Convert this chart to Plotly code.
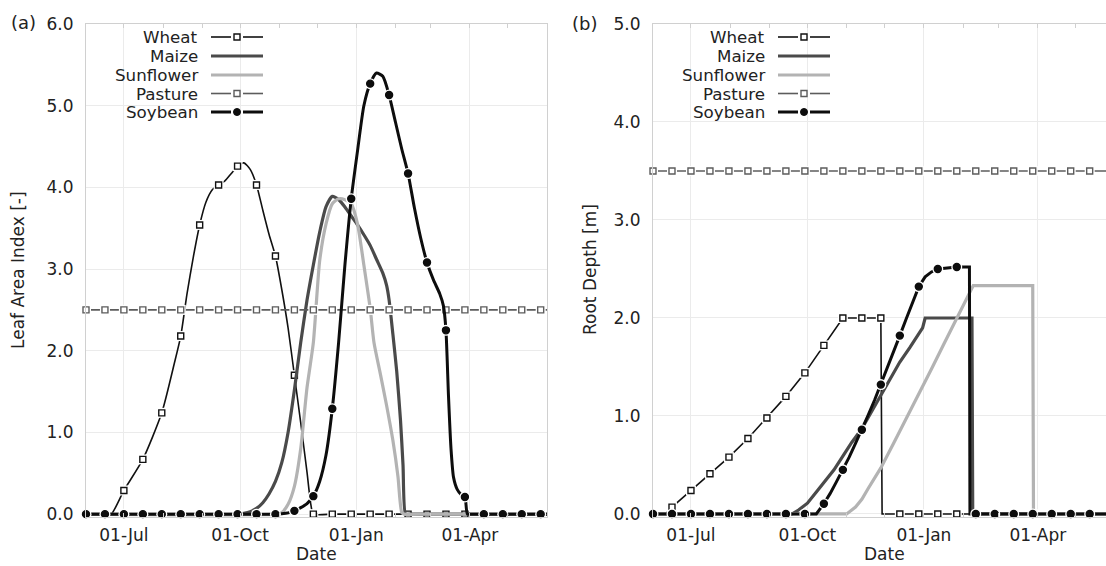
import pandas as pd
import plotly.graph_objects as go

START = pd.Timestamp("2010-06-01")
W, H = 1106, 566

# ---------------- data (day offset from 01-Jun, value) ----------------
# Leaf Area Index [-]
wheat_lai = [(0, 0), (15, 0), (20, 0), (30, 0.29), (45, 0.67), (60, 1.24), (70, 1.85), (75, 2.18),
             (80, 2.70), (85, 3.15), (90, 3.54), (95, 3.82), (100, 3.97), (105, 4.03), (110, 4.08),
             (115, 4.17), (120, 4.26), (125, 4.30), (130, 4.22), (135, 4.03), (140, 3.72), (145, 3.42),
             (150, 3.16), (155, 2.75), (160, 2.28), (165, 1.70), (170, 1.12), (175, 0.51), (178, 0.12),
             (180, 0), (195, 0), (210, 0), (225, 0), (240, 0), (255, 0), (270, 0), (285, 0), (300, 0),
             (315, 0), (330, 0), (345, 0), (360, 0), (365, 0)]
maize_lai = [(0, 0), (120, 0), (125, 0.01), (130, 0.03), (135, 0.07), (140, 0.14), (145, 0.25),
             (150, 0.40), (155, 0.63), (160, 1.00), (165, 1.52), (170, 2.10), (175, 2.62), (180, 3.05),
             (185, 3.45), (190, 3.76), (195, 3.89), (200, 3.85), (205, 3.76), (210, 3.65), (215, 3.54),
             (220, 3.42), (225, 3.29), (230, 3.12), (235, 2.95), (238, 2.80), (240, 2.62), (243, 2.20),
             (246, 1.75), (249, 1.15), (251, 0.60), (253, 0), (256, 0), (270, 0), (365, 0)]
sunflower_lai = [(0, 0), (150, 0), (155, 0.02), (160, 0.12), (165, 0.34), (170, 0.80), (175, 1.55),
                 (180, 2.10), (185, 3.10), (190, 3.55), (195, 3.80), (200, 3.86), (205, 3.85),
                 (210, 3.80), (215, 3.55), (220, 3.05), (225, 2.52), (228, 2.10), (233, 1.72),
                 (238, 1.33), (243, 0.90), (247, 0.46), (250, 0.02), (252, 0), (270, 0), (365, 0)]
pasture_lai = [(d, 2.5) for d in (0, 15, 30, 45, 60, 75, 90, 105, 120, 135, 150, 165, 180, 195, 210,
                                  225, 240, 255, 270, 285, 300, 315, 330, 345, 360, 365)]
soybean_lai = [(0, 0), (15, 0), (30, 0), (45, 0), (60, 0), (75, 0), (90, 0), (105, 0), (120, 0),
               (135, 0), (150, 0), (155, 0.005), (160, 0.015), (165, 0.04), (170, 0.08), (175, 0.13),
               (180, 0.22), (185, 0.40), (190, 0.72), (195, 1.29), (200, 2.10), (205, 3.05),
               (210, 3.86), (215, 4.45), (220, 5.00), (225, 5.27), (230, 5.40), (235, 5.36),
               (240, 5.13), (245, 4.80), (250, 4.47), (255, 4.17), (260, 3.75), (265, 3.38),
               (270, 3.08), (275, 2.87), (280, 2.70), (283, 2.55), (285, 2.25), (287, 1.45),
               (289, 0.80), (291, 0.45), (294, 0.30), (297, 0.24), (300, 0.21), (302, 0), (305, 0),
               (315, 0), (330, 0), (345, 0), (360, 0), (365, 0)]

# Root Depth [m]
wheat_rd = [(0, 0), (10, 0), (15, 0.07), (30, 0.24), (45, 0.41), (60, 0.58), (75, 0.77), (90, 0.98),
            (105, 1.20), (120, 1.44), (135, 1.72), (150, 2.0), (165, 2.0), (180, 2.0), (181, 0),
            (195, 0), (210, 0), (225, 0), (240, 0), (255, 0), (270, 0), (285, 0), (300, 0), (315, 0),
            (330, 0), (345, 0), (360, 0), (365, 0)]
maize_rd = [(0, 0), (110, 0), (115, 0.04), (122, 0.11), (130, 0.24), (136, 0.34), (143, 0.45),
            (150, 0.59), (157, 0.73), (165, 0.87), (172, 1.03), (180, 1.22), (188, 1.40),
            (195, 1.55), (203, 1.70), (210, 1.84), (213, 1.90), (215, 2.0), (252, 2.0), (252.6, 0),
            (365, 0)]
sunflower_rd = [(0, 0), (153, 0), (160, 0.07), (165, 0.15), (170, 0.26), (175, 0.36), (180, 0.47),
                (190, 0.72), (200, 0.97), (210, 1.23), (220, 1.48), (230, 1.74), (240, 2.0),
                (250, 2.25), (253, 2.33), (300, 2.33), (300.6, 0), (365, 0)]
pasture_rd = [(d, 3.5) for d in (0, 15, 30, 45, 60, 75, 90, 105, 120, 135, 150, 165, 180, 195, 210,
                                 225, 240, 255, 270, 285, 300, 315, 330, 345, 360, 365)]
soybean_rd = [(0, 0), (15, 0), (30, 0), (45, 0), (60, 0), (75, 0), (90, 0), (105, 0), (120, 0),
              (129, 0), (135, 0.105), (140, 0.21), (145, 0.33), (150, 0.45), (155, 0.58),
              (160, 0.72), (165, 0.86), (170, 1.01), (175, 1.16), (180, 1.32), (185, 1.49),
              (190, 1.65), (195, 1.82), (200, 1.99), (205, 2.16), (210, 2.32), (215, 2.42),
              (220, 2.47), (225, 2.50), (240, 2.52), (250, 2.52), (250.4, 0), (255, 0), (270, 0),
              (285, 0), (300, 0), (315, 0), (330, 0), (345, 0), (360, 0), (365, 0)]

x_tick_dates = ["2010-07-01", "2010-10-01", "2011-01-01", "2011-04-01"]
x_tick_text = ["01-Jul", "01-Oct", "01-Jan", "01-Apr"]
lai_ticks = [0, 1, 2, 3, 4, 5, 6]
rd_ticks = [0, 1, 2, 3, 4, 5]
names = ["Wheat", "Maize", "Sunflower", "Pasture", "Soybean"]

# ---------------- styles ----------------
FONT = "DejaVu Sans"
TXT = "#222222"
STY = {
    "Wheat": dict(color="#111111", width=1.6, symbol="square", msize=6, fill="white", halo=10),
    "Maize": dict(color="#4a4a4a", width=3.2, symbol=None),
    "Sunflower": dict(color="#b3b3b3", width=3.2, symbol=None),
    "Pasture": dict(color="#5c5c5c", width=1.6, symbol="square", msize=6, fill="white", halo=10),
    "Soybean": dict(color="#0d0d0d", width=3.0, symbol="circle", msize=7, fill="#0d0d0d", halo=11),
}

def to_dates(days):
    return [START + pd.Timedelta(days=float(d)) for d in days]

fig = go.Figure()

def add_series(name, pts, xa, ya, shape):
    s = STY[name]
    days = [p[0] for p in pts]
    vals = [p[1] for p in pts]
    line = dict(color=s["color"], width=s["width"], shape=shape)
    if shape == "spline":
        line["smoothing"] = 0.6
    fig.add_trace(go.Scatter(x=to_dates(days), y=vals, mode="lines", line=line,
                             xaxis=xa, yaxis=ya, showlegend=False, hoverinfo="skip"))
    if s["symbol"]:
        mk = [p for p in pts if float(p[0]).is_integer() and int(p[0]) % 15 == 0 and p[0] <= 360]
        md = to_dates([p[0] for p in mk])
        mv = [p[1] for p in mk]
        fig.add_trace(go.Scatter(x=md, y=mv, mode="markers", cliponaxis=False,
                                 marker=dict(symbol=s["symbol"], size=s["halo"], color="white",
                                             line=dict(width=0)),
                                 xaxis=xa, yaxis=ya, showlegend=False, hoverinfo="skip"))
        fig.add_trace(go.Scatter(x=md, y=mv, mode="markers", cliponaxis=False,
                                 marker=dict(symbol=s["symbol"], size=s["msize"], color=s["fill"],
                                             line=dict(width=1.4, color=s["color"])),
                                 xaxis=xa, yaxis=ya, showlegend=False, hoverinfo="skip"))

for nm, pts in zip(names, [wheat_lai, maize_lai, sunflower_lai, pasture_lai, soybean_lai]):
    add_series(nm, pts, "x", "y", "spline")
for nm, pts in zip(names, [wheat_rd, maize_rd, sunflower_rd, pasture_rd, soybean_rd]):
    add_series(nm, pts, "x2", "y2", "linear")

# ---------------- layout geometry (pixels) ----------------
L1, R1 = 86, 547
L2, R2 = 653, 1106
TOP, BOT = 24, 517.4
right_days = 365 * (R2 - L2) / (1115 - L2)

def px(x):
    return x / W

def py(y):
    return 1 - y / H

xcommon = dict(type="date", tickmode="array", tickvals=x_tick_dates, ticktext=x_tick_text,
               showgrid=True, gridcolor="#ebebeb", gridwidth=1, showline=True, linecolor="#d0d0d0",
               linewidth=1, mirror="ticks", ticks="inside", ticklen=4, tickcolor="#d0d0d0",
               minor=dict(ticks="inside", ticklen=4, tickcolor="#d0d0d0", dtick="M1",
                          tick0="2010-06-01", showgrid=False),
               tickfont=dict(family=FONT, size=17, color=TXT), zeroline=False,
               ticklabelstandoff=2, automargin=False)

ycommon = dict(tickformat=".1f", showgrid=True, gridcolor="#ebebeb", showline=True,
               linecolor="#d0d0d0", ticks="", zeroline=False, automargin=False,
               tickfont=dict(family=FONT, size=17, color=TXT), ticklabelstandoff=8)

fig.update_layout(
    template="none",
    width=W, height=H, margin=dict(l=0, r=0, t=0, b=0, pad=0), autosize=False,
    paper_bgcolor="white", plot_bgcolor="white", showlegend=False,
    font=dict(family=FONT, size=17, color=TXT),
    xaxis=dict(domain=[px(L1), px(R1)], anchor="y",
               range=[START, START + pd.Timedelta(days=365)], **xcommon),
    xaxis2=dict(domain=[px(L2), 1.0], anchor="y2",
                range=[START, START + pd.Timedelta(days=right_days)], **xcommon),
    yaxis=dict(domain=[py(BOT), py(TOP)], anchor="x", range=[-0.04, 6.0], tickvals=lai_ticks,
               mirror=True, **ycommon),
    yaxis2=dict(domain=[py(BOT), py(TOP)], anchor="x2", range=[-0.035, 5.0], tickvals=rd_ticks,
                mirror=False, **ycommon),
)

annotations = []
shapes = []

def text(x, y, s, size=17, xanchor="center", angle=0):
    annotations.append(dict(x=px(x), y=py(y), xref="paper", yref="paper", text=s, showarrow=False,
                            xanchor=xanchor, yanchor="middle", textangle=angle,
                            font=dict(family=FONT, size=size, color=TXT)))

text(23, 23, "(a)", 18)
text(584, 24, "(b)", 18)
text(18, 270, "Leaf Area Index [-]", 17, angle=-90)
text(590, 270, "Root Depth [m]", 17, angle=-90)
text((L1 + R1) / 2, 554, "Date", 17)
text((L2 + 1115) / 2, 554, "Date", 17)

rows = [37, 56, 75, 93.5, 112]
for L, xa, ya in [(L1, "x", "y"), (L2, "x2", "y2")]:
    # white legend background (hides grid lines behind the key)
    shapes.append(dict(type="rect", xref="paper", yref="paper", layer="below",
                       x0=px(L + 1), x1=px(L + 188), y0=py(124), y1=py(TOP + 5),
                       fillcolor="white", line=dict(width=0)))
    for nm, yy in zip(names, rows):
        s = STY[nm]
        text(L + 114, yy, nm, 16.7, xanchor="right")
        cx = L + 151
        if s["symbol"]:
            segs = [(L + 125, cx - 6), (cx + 6, L + 177)]
        else:
            segs = [(L + 125, L + 177)]
        for a, b in segs:
            shapes.append(dict(type="line", xref="paper", yref="paper", layer="above",
                               x0=px(a), x1=px(b), y0=py(yy), y1=py(yy),
                               line=dict(color=s["color"], width=s["width"])))
        if s["symbol"] == "square":
            shapes.append(dict(type="rect", xref="paper", yref="paper", layer="above",
                               x0=px(cx - 3), x1=px(cx + 3), y0=py(yy + 3), y1=py(yy - 3),
                               fillcolor="white", line=dict(color=s["color"], width=1.4)))
        elif s["symbol"] == "circle":
            shapes.append(dict(type="circle", xref="paper", yref="paper", layer="above",
                               x0=px(cx - 3.5), x1=px(cx + 3.5), y0=py(yy + 3.5), y1=py(yy - 3.5),
                               fillcolor=s["color"], line=dict(color=s["color"], width=1)))

fig.update_layout(annotations=annotations, shapes=shapes)
fig.write_html("out.html")
